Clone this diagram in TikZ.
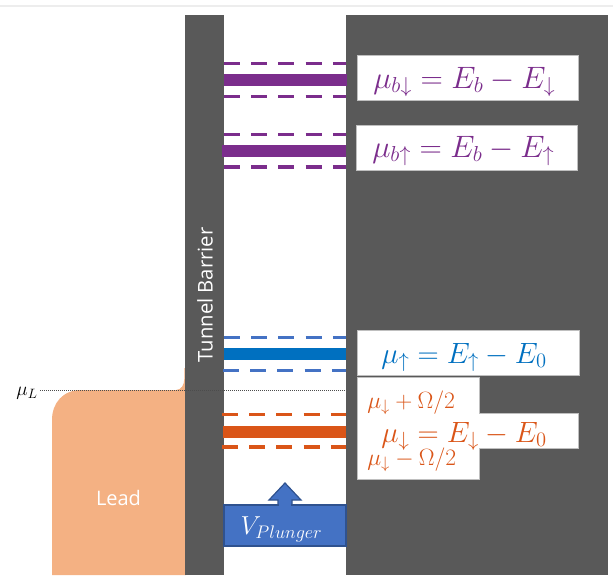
\RequirePackage{fix-cm}
\documentclass[tikz,border=0pt]{standalone}
\usepackage{amsmath}
\usepackage{fontspec}
\setmainfont{Open Sans}
\definecolor{wall}{HTML}{595959}
\definecolor{leadfill}{HTML}{F4B183}
\definecolor{purp}{HTML}{7B2D8C}
\definecolor{bluesolid}{HTML}{0070C0}
\definecolor{bluedash}{HTML}{4472C4}
\definecolor{orng}{HTML}{DA5518}
\definecolor{plborder}{HTML}{2F528F}
\tikzset{
  x=0.75pt,y=-0.75pt,
  wallbox/.style={fill=wall,draw=none},
  whitebox/.style={fill=white,draw=black!25,line width=0.4pt},
  solidlevel/.style={line width=9pt,line cap=butt},
  dashlevel/.style={line width=2.3pt,dash pattern=on 12pt off 8.4pt},
  eqlabel/.style={inner sep=0pt,anchor=base west,font=\fontsize{22}{26}\selectfont},
  eqlabelb/.style={inner sep=0pt,anchor=base west,font=\fontsize{23.2}{27}\selectfont},
  smalllabel/.style={inner sep=0pt,anchor=base west,text=orng,font=\fontsize{17.7}{19}\selectfont},
}
\begin{document}
\begin{tikzpicture}
\useasboundingbox (0,0) rectangle (613,578);
\draw[draw=black!7,line width=0.8pt] (0,6) -- (613,6);
% lead
\fill[leadfill] (52,575) -- (52,420) .. controls (52,403) and (63,390) .. (81,390)
  -- (176,390) .. controls (181,390) and (184.3,385) .. (184.3,379) -- (184.3,368) -- (186,368) -- (186,575) -- cycle;
% walls
\fill[wallbox] (185,15) rectangle (224,575);
\fill[wallbox] (346,15) rectangle (608,575);
\node[rotate=90,text=white,font=\fontsize{15.2}{17}\selectfont,inner sep=0pt] (tb) at (205,295) {Tunnel Barrier};
\node[text=white,font=\fontsize{15}{17}\selectfont,inner sep=0pt] (lead) at (118.5,498) {Lead};
% Fermi level
\draw[black!70,line width=0.5pt,densely dotted] (40,390) -- (346,390);
\node[inner sep=0pt,font=\fontsize{14.5}{16}\selectfont] (muL) at (27,393) {$\mu_L$};
% levels
\draw[purp,solidlevel] (224,80) -- (347,80);
\draw[purp,dashlevel] (224,63.5) -- (346,63.5);
\draw[purp,dashlevel] (224,96.5) -- (346,96.5);
\draw[purp,solidlevel] (222,151) -- (346,151);
\draw[purp,dashlevel] (224,134.5) -- (346,134.5);
\draw[purp,dashlevel] (224,167) -- (346,167);
\draw[bluesolid,solidlevel] (224,354) -- (346,354);
\draw[bluedash,dashlevel] (224,337.5) -- (346,337.5);
\draw[bluedash,dashlevel] (223,370.5) -- (346,370.5);
\draw[orng,solidlevel] (223,431.5) -- (346,431.5);
\draw[orng,dashlevel] (222,414.5) -- (346,414.5);
\draw[orng,dashlevel] (222,447) -- (346,447);
% equation boxes
\draw[whitebox] (357,55) rectangle (578,100);
\draw[whitebox] (356,125.5) rectangle (577,170.5);
\draw[whitebox] (357,330) rectangle (579,375);
\draw[whitebox] (357,413) rectangle (578,448);
\draw[whitebox] (357,377) rectangle (479,479);
\fill[white] (357.5,377.5) rectangle (478.5,478.5);
\fill[white] (478,413.5) rectangle (500,447.5);
\node[eqlabelb,text=purp] (eqbd) at (373,88) {$\mu_{b\downarrow}=E_b-E_\downarrow$};
\node[eqlabelb,text=purp] (eqbu) at (372,157) {$\mu_{b\uparrow}=E_b-E_\uparrow$};
\node[eqlabel,text=bluesolid] (equ) at (381,363) {$\mu_\uparrow=E_\uparrow-E_0$};
\node[eqlabel,text=orng] (eqd) at (381,442) {$\mu_\downarrow=E_\downarrow-E_0$};
\node[smalllabel] (plus) at (367,408) {$\mu_\downarrow+\Omega/2$};
\node[smalllabel] (minus) at (367,465) {$\mu_\downarrow-\Omega/2$};
% plunger
\draw[fill=bluedash,draw=plborder,line width=0.9pt] (278,505) -- (278,500) -- (269,500) -- (285,483) -- (301,500) -- (292,500) -- (292,505);
\draw[fill=bluedash,draw=plborder,line width=0.9pt] (224,505) rectangle (346,546);
\fill[bluedash] (278.6,503) rectangle (291.4,506);
\node[text=white,inner sep=0pt,font=\fontsize{19.5}{22}\selectfont] (vp) at (281.5,529) {$V_{Plunger}$};
\end{tikzpicture}
\end{document}
